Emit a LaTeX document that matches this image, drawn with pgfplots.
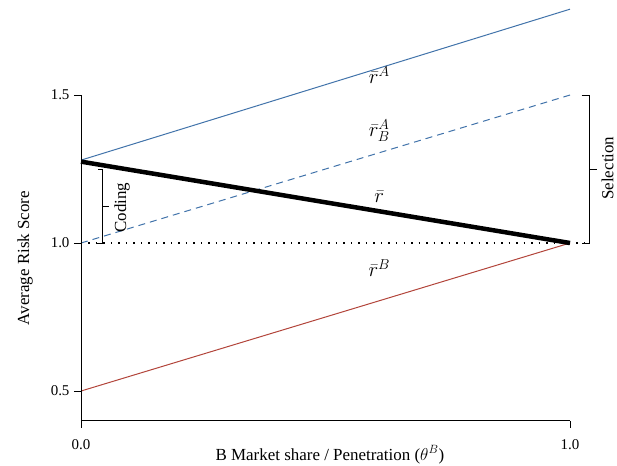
\documentclass[border=0pt]{standalone}
\usepackage{fontspec}
\setmainfont{Liberation Serif}
\usepackage{pgfplots}
\pgfplotsset{compat=1.18}
\definecolor{rblue}{RGB}{65,115,170}
\definecolor{rred}{RGB}{178,68,58}
\begin{document}
\begin{tikzpicture}
\begin{axis}[
  x=489bp, y=296bp,
  xmin=0, xmax=1, ymin=0.4, ymax=1.79,
  clip=false,
  axis line style={draw=none},
  xtick={0,1}, ytick={0.5,1,1.5},
  xticklabels={0.0,1.0}, yticklabels={0.5,1.0,1.5},
  tick align=outside, major tick length=7bp,
  xtick pos=bottom, ytick pos=left,
  tick style={black, line width=0.9bp},
  ticklabel style={font=\fontsize{15}{17}\selectfont},
  xticklabel style={yshift=-8bp},
  yticklabel style={xshift=-1bp},
]
\addplot[rblue, line width=1bp] coordinates {(0,1.28) (1,1.79)};
\addplot[rblue, line width=1bp, dash pattern=on 7bp off 5bp] coordinates {(0,1.0) (1,1.5)};
\addplot[black, line width=1.5bp, dash pattern=on 1.5bp off 6bp] coordinates {(0,1.0) (1.03,1.0)};
\addplot[rred, line width=1bp] coordinates {(0,0.5) (1,1.0)};
\addplot[black, line width=4.5bp] coordinates {(0,1.275) (1,1.0)};
% range-frame axes
\draw[line width=0.9bp] (axis cs:0,0.4) -- (axis cs:0,1.5);
\draw[line width=0.9bp] (axis cs:0,0.4) -- (axis cs:1,0.4);
% coding bracket
\draw[line width=1bp] (axis cs:0.035,1.25) -- (axis cs:0.045,1.25) -- (axis cs:0.045,1.0) -- (axis cs:0.033,1.0);
\draw[line width=1bp] (axis cs:0.045,1.122) -- (axis cs:0.058,1.122);
\node[rotate=90, font=\fontsize{17}{19}\selectfont] at (axis cs:0.084,1.12) {Coding};
% selection bracket
\draw[line width=1bp] (axis cs:1.024,1.5) -- (axis cs:1.039,1.5) -- (axis cs:1.039,1.0) -- (axis cs:1.024,1.0);
\draw[line width=1bp] (axis cs:1.039,1.25) -- (axis cs:1.055,1.25);
\node[rotate=90, font=\fontsize{17}{19}\selectfont] at (axis cs:1.077,1.253) {Selection};
% line labels
\node[font=\fontsize{20}{22}\selectfont] at (axis cs:0.61,1.568) {$\bar r^{A}$};
\node[font=\fontsize{20}{22}\selectfont] at (axis cs:0.61,1.38) {$\bar r^{A}_{B}$};
\node[font=\fontsize{20}{22}\selectfont] at (axis cs:0.61,1.155) {$\bar r$};
\node[font=\fontsize{20}{22}\selectfont] at (axis cs:0.61,0.916) {$\bar r^{B}$};
% axis titles
\node[rotate=90, font=\fontsize{17}{19}\selectfont] at (axis cs:-0.1145,0.949) {Average Risk Score};
\node[font=\fontsize{17}{19}\selectfont] at (axis cs:0.509,0.285) {B Market share / Penetration ($\theta^{B}$)};
\coordinate (bl) at (axis cs:-0.1656,0.25);
\coordinate (tr) at (axis cs:1.0961,1.821);
\end{axis}
\pgfresetboundingbox
\path[use as bounding box] (bl) rectangle (tr);
\end{tikzpicture}
\end{document}
